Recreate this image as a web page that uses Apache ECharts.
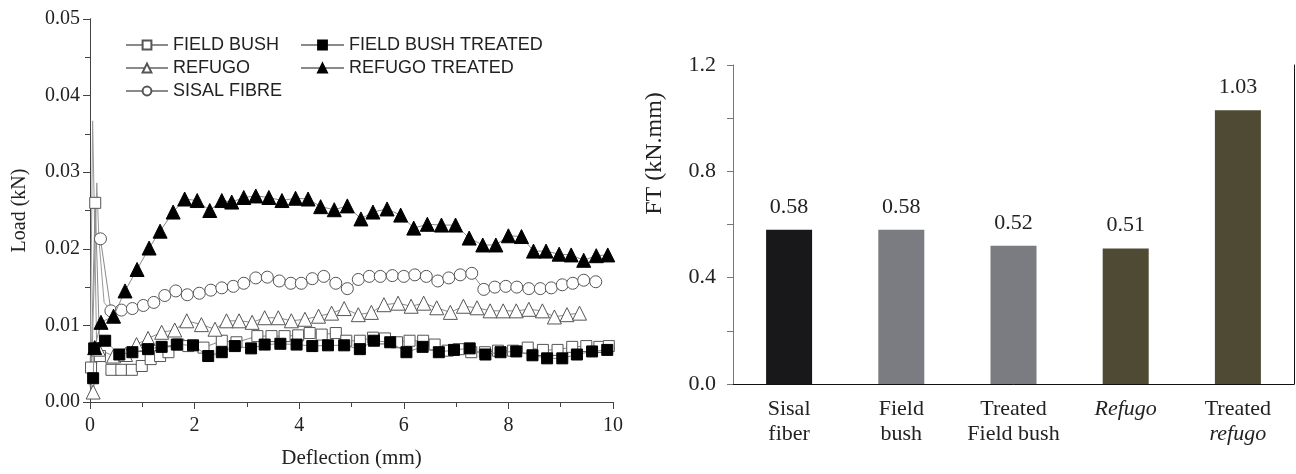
<!DOCTYPE html>
<html>
<head>
<meta charset="utf-8">
<script src="https://cdn.jsdelivr.net/npm/echarts@6/dist/echarts.min.js"></script>
<style>
html,body{margin:0;padding:0;background:#fff;}
#main{width:1296px;height:474px;}
</style>
</head>
<body>
<div id="main"></div>
<script>
// load-deflection curves, [deflection mm, load kN]
var fieldBush = [[0.02,0.0045],[0.1,0.026],[0.19,0.006],[0.41,0.0042],[0.6,0.0042],[0.8,0.0042],[0.99,0.0047],[1.16,0.0056],[1.34,0.006],[1.5,0.0065],[1.69,0.0075],[1.88,0.0073],[2.17,0.0071],[2.52,0.008],[2.8,0.0078],[3.2,0.0086],[3.47,0.0086],[3.72,0.0086],[3.98,0.0087],[4.2,0.009],[4.43,0.0088],[4.7,0.009],[4.9,0.008],[5.16,0.008],[5.41,0.0084],[5.64,0.0083],[5.87,0.0078],[6.11,0.008],[6.37,0.008],[6.59,0.0075],[6.84,0.0067],[7.05,0.0069],[7.29,0.0065],[7.55,0.0065],[7.8,0.0067],[8.09,0.0067],[8.37,0.0071],[8.66,0.0068],[8.94,0.0068],[9.22,0.0072],[9.49,0.0073],[9.74,0.0072],[9.92,0.0073]];
var fieldBushTreated = [[0.06,0.0031],[0.08,0.007],[0.29,0.008],[0.56,0.0062],[0.81,0.0065],[1.11,0.0069],[1.37,0.0072],[1.66,0.0075],[1.97,0.0074],[2.26,0.006],[2.52,0.0065],[2.77,0.0073],[3.08,0.007],[3.34,0.0075],[3.64,0.0076],[3.95,0.0075],[4.25,0.0073],[4.55,0.0074],[4.86,0.0074],[5.16,0.0069],[5.43,0.008],[5.74,0.0078],[6.05,0.0065],[6.36,0.0072],[6.67,0.0065],[6.96,0.0068],[7.26,0.007],[7.56,0.0062],[7.85,0.0065],[8.15,0.0066],[8.46,0.0061],[8.74,0.0057],[9.03,0.0057],[9.31,0.0062],[9.6,0.0066],[9.89,0.0068]];
var refugo = [[0.06,0.0013],[0.16,0.0069],[0.45,0.006],[0.68,0.0062],[0.89,0.0075],[1.11,0.0083],[1.37,0.0091],[1.62,0.0094],[1.85,0.0106],[2.13,0.0101],[2.39,0.0095],[2.61,0.0106],[2.85,0.0106],[3.1,0.0104],[3.34,0.011],[3.6,0.011],[3.85,0.0106],[4.11,0.0108],[4.37,0.0112],[4.62,0.0116],[4.86,0.0122],[5.13,0.0114],[5.38,0.0117],[5.62,0.0127],[5.89,0.0129],[6.14,0.0125],[6.38,0.0129],[6.63,0.0123],[6.89,0.0117],[7.14,0.0125],[7.4,0.0123],[7.65,0.0119],[7.9,0.0119],[8.15,0.0119],[8.39,0.0121],[8.65,0.0119],[8.88,0.0111],[9.12,0.0114],[9.36,0.0116]];
var refugoTreated = [[0.09,0.0071],[0.21,0.0104],[0.45,0.0112],[0.67,0.0145],[0.9,0.0173],[1.13,0.0201],[1.34,0.0223],[1.59,0.0248],[1.81,0.0265],[2.05,0.0263],[2.29,0.025],[2.52,0.0263],[2.71,0.0261],[2.94,0.0267],[3.17,0.0269],[3.42,0.0267],[3.67,0.0263],[3.93,0.0266],[4.17,0.0265],[4.41,0.0255],[4.67,0.0251],[4.92,0.0256],[5.18,0.0239],[5.41,0.0248],[5.68,0.0252],[5.94,0.0244],[6.19,0.0227],[6.45,0.0232],[6.72,0.0231],[6.99,0.0231],[7.25,0.0214],[7.51,0.0205],[7.76,0.0205],[8.0,0.0217],[8.25,0.0216],[8.48,0.0197],[8.72,0.0197],[8.97,0.0193],[9.2,0.0192],[9.44,0.0185],[9.68,0.0191],[9.9,0.0192]];
var sisalFibre = [[0.2,0.0213],[0.4,0.0119],[0.6,0.012],[0.81,0.0122],[1.02,0.0126],[1.22,0.013],[1.43,0.0139],[1.64,0.0145],[1.86,0.014],[2.09,0.0142],[2.31,0.0146],[2.52,0.0149],[2.74,0.0151],[2.94,0.0155],[3.17,0.0162],[3.39,0.0163],[3.62,0.0158],[3.84,0.0155],[4.04,0.0155],[4.25,0.0161],[4.47,0.0164],[4.7,0.0155],[4.92,0.0148],[5.13,0.016],[5.34,0.0164],[5.55,0.0164],[5.78,0.0165],[6.0,0.0164],[6.21,0.0166],[6.43,0.0164],[6.65,0.0158],[6.86,0.0162],[7.08,0.0166],[7.3,0.0168],[7.53,0.0147],[7.74,0.015],[7.95,0.0151],[8.16,0.015],[8.39,0.0148],[8.61,0.0148],[8.82,0.0149],[9.03,0.0153],[9.23,0.0155],[9.44,0.0159],[9.67,0.0157]];
// initial load spikes (no markers)
var fieldBushSpike = [[0.0,0.002],[0.05,0.0367],[0.08,0.026],[0.1,0.026],[0.13,0.006],[0.19,0.006]];
var sisalSpike = [[0.02,0.001],[0.13,0.0286],[0.17,0.0213],[0.2,0.0213],[0.27,0.013],[0.4,0.0119]];

// flexural toughness bars
var categories = ['Sisal\nfiber','Field\nbush','Treated\nField bush','Refugo','Treated\nrefugo'];
var ftValues = [0.58,0.58,0.52,0.51,1.03];
var barColors = ['#18181a','#7a7c81','#7a7c81','#4f4a33','#4f4a33'];

var serif = 'Liberation Serif';
var sans = 'Liberation Sans';
var lineGray = '#8a8a8a';

function lineSeries(name,data,symbol,filled,size){
	return {
		name:name, type:'line', data:data, xAxisIndex:0, yAxisIndex:0,
		symbol:symbol, symbolSize:size, showAllSymbol:true,
		lineStyle:{color:lineGray,width:1},
		itemStyle:{color:filled?'#000':'#fff',borderColor:filled?'#000':'#555',borderWidth:1},
		emphasis:{disabled:true}, animation:false, z:filled?4:3
	};
}
function spikeSeries(data){
	return {type:'line',data:data,xAxisIndex:0,yAxisIndex:0,showSymbol:false,
		lineStyle:{color:'#999',width:1},animation:false,z:2};
}

var myChart = echarts.init(document.getElementById('main'));
option = {
	animation:false,
	backgroundColor:'#fff',
	grid:[
		{left:90,right:683,top:19,bottom:71},
		{left:733,right:2,top:65,bottom:90}
	],
	legend:[
		{data:['FIELD BUSH','REFUGO','SISAL FIBRE'],orient:'vertical',left:120,top:31,
			itemWidth:42,itemHeight:11,itemGap:5,
			textStyle:{fontFamily:sans,fontSize:18,color:'#222'}},
		{data:['FIELD BUSH TREATED','REFUGO TREATED'],orient:'vertical',left:295,top:31,
			itemWidth:43,itemHeight:11,itemGap:5,
			textStyle:{fontFamily:sans,fontSize:18,color:'#222'}}
	],
	xAxis:[
		{type:'value',gridIndex:0,min:0,max:10,interval:2,
			name:'Deflection (mm)',nameLocation:'middle',nameGap:46,
			nameTextStyle:{fontFamily:serif,fontSize:21,color:'#222'},
			axisLine:{lineStyle:{color:'#444'}},
			axisTick:{length:7,lineStyle:{color:'#444'}},
			minorTick:{show:true,splitNumber:2,length:4,lineStyle:{color:'#444'}},
			axisLabel:{fontFamily:serif,fontSize:20,color:'#222',margin:14},
			splitLine:{show:false}},
		{type:'value',gridIndex:0,position:'top',min:0,max:10,interval:1,
			axisLine:{lineStyle:{color:'#444'}},
			axisTick:{inside:true,length:5,lineStyle:{color:'#444'}},
			axisLabel:{show:false},splitLine:{show:false}},
		{type:'category',gridIndex:1,data:categories,
			axisLine:{lineStyle:{color:'#777'}},
			axisTick:{length:5,lineStyle:{color:'#777'}},
			axisLabel:{interval:0,hideOverlap:false,fontFamily:serif,fontSize:22,color:'#222',margin:13,lineHeight:25,
				formatter:function(v){
					if(v==='Refugo') return '{i|Refugo}';
					if(v==='Treated\nrefugo') return 'Treated\n{i|refugo}';
					return v;
				},
				rich:{i:{fontStyle:'italic',fontFamily:serif,fontSize:22,color:'#222',lineHeight:25}}},
			splitLine:{show:false}},
		{type:'category',gridIndex:1,position:'top',data:categories,
			axisLine:{lineStyle:{color:'#111'}},axisTick:{show:false},axisLabel:{show:false}}
	],
	yAxis:[
		{type:'value',gridIndex:0,min:0,max:0.05,interval:0.01,
			name:'Load (kN)',nameLocation:'middle',nameGap:60,
			nameTextStyle:{fontFamily:serif,fontSize:20,color:'#222'},
			axisLine:{show:true,lineStyle:{color:'#444'}},
			axisTick:{show:true,length:7,lineStyle:{color:'#444'}},
			minorTick:{show:true,splitNumber:2,length:4,lineStyle:{color:'#444'}},
			axisLabel:{fontFamily:serif,fontSize:20,color:'#222',margin:10,
				formatter:function(v){return v.toFixed(2);}},
			splitLine:{show:false}},
		{type:'value',gridIndex:0,position:'right',min:0,max:0.05,interval:0.005,
			axisLine:{show:true,lineStyle:{color:'#444'}},
			axisTick:{show:true,inside:true,length:5,lineStyle:{color:'#444'}},
			axisLabel:{show:false},splitLine:{show:false}},
		{type:'value',gridIndex:1,min:0,max:1.2,interval:0.4,
			name:'FT (kN.mm)',nameLocation:'middle',nameGap:66,
			nameTextStyle:{fontFamily:serif,fontSize:24,color:'#222',padding:[0,0,0,142]},
			axisLine:{show:true,lineStyle:{color:'#777'}},
			axisTick:{show:true,length:6,lineStyle:{color:'#777'}},
			minorTick:{show:true,splitNumber:2,length:6,lineStyle:{color:'#777'}},
			axisLabel:{fontFamily:serif,fontSize:22,color:'#222',margin:17,
				formatter:function(v){return v.toFixed(1);}},
			splitLine:{show:false}},
		{type:'value',gridIndex:1,position:'right',min:0,max:1.2,
			axisLine:{show:true,lineStyle:{color:'#111'}},
			axisTick:{show:false},axisLabel:{show:false},splitLine:{show:false}}
	],
	series:[
		spikeSeries(fieldBushSpike),
		spikeSeries(sisalSpike),
		lineSeries('FIELD BUSH',fieldBush,'rect',false,11),
		lineSeries('REFUGO',refugo,'triangle',false,14),
		lineSeries('SISAL FIBRE',sisalFibre,'circle',false,12),
		lineSeries('FIELD BUSH TREATED',fieldBushTreated,'rect',true,11),
		lineSeries('REFUGO TREATED',refugoTreated,'triangle',true,14),
		{type:'bar',xAxisIndex:2,yAxisIndex:2,barWidth:46,animation:false,
			data:ftValues.map(function(v,i){return {value:v,itemStyle:{color:barColors[i]}};}),
			label:{show:true,position:'top',distance:12,fontFamily:serif,fontSize:22,color:'#222',
				formatter:function(p){return p.value.toFixed(2);}}}
	]
};
myChart.setOption(option);
</script>
</body>
</html>
